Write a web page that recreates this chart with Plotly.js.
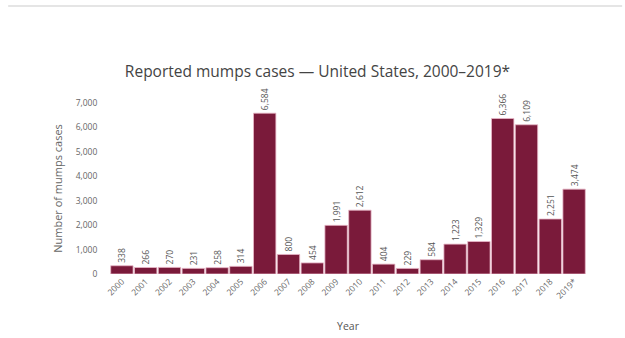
<!DOCTYPE html>
<html>
<head>
<meta charset="utf-8">
<script src="https://cdn.plot.ly/plotly-3.0.1.min.js"></script>
<style>
  html, body { margin: 0; padding: 0; background: #ffffff; }
  #chart { width: 625px; height: 338px; }
</style>
</head>
<body>
<div id="chart"></div>
<script>
// Reported mumps cases by year
const years = ["2000","2001","2002","2003","2004","2005","2006","2007","2008","2009",
               "2010","2011","2012","2013","2014","2015","2016","2017","2018","2019*"];
const cases = [338, 266, 270, 231, 258, 314, 6584, 800, 454, 1991,
               2612, 404, 229, 584, 1223, 1329, 6366, 6109, 2251, 3474];
const yTicks = [0, 1000, 2000, 3000, 4000, 5000, 6000, 7000];

const fontFamily = "Open Sans, DejaVu Sans, sans-serif";

const trace = {
  type: "bar",
  x: years,
  y: cases,
  text: cases.map(v => v.toLocaleString("en-US")),
  textposition: "outside",
  textangle: -90,
  textfont: { family: fontFamily, size: 8.5, color: "#555555" },
  cliponaxis: false,
  marker: {
    color: "#7a1a3a",
    line: { color: "#e9b8c8", width: 0.8 }
  },
  hoverinfo: "x+y"
};

const layout = {
  width: 625,
  height: 338,
  paper_bgcolor: "#ffffff",
  plot_bgcolor: "#ffffff",
  margin: { l: 110, r: 39, t: 103, b: 64, pad: 0 },
  bargap: 0.06,
  showlegend: false,
  title: {
    text: "Reported mumps cases — United States, 2000–2019*",
    font: { family: fontFamily, size: 15.5, color: "#444444" },
    x: 0.508, xanchor: "center",
    y: 0.787, yanchor: "middle"
  },
  xaxis: {
    type: "category",
    tickangle: -45,
    tickfont: { family: fontFamily, size: 8.5, color: "#666666" },
    showgrid: false,
    zeroline: false,
    showline: false,
    ticks: "",
    automargin: false,
    title: { text: "Year", font: { family: fontFamily, size: 10.5, color: "#555555" }, standoff: 22 }
  },
  yaxis: {
    range: [0, 7000],
    tickvals: yTicks,
    ticktext: yTicks.map(v => v.toLocaleString("en-US")),
    tickfont: { family: fontFamily, size: 8.5, color: "#666666" },
    showgrid: false,
    zeroline: false,
    showline: false,
    ticks: "outside",
    ticklen: 10,
    tickcolor: "rgba(0,0,0,0)",
    automargin: false,
    title: { text: "Number of mumps cases", font: { family: fontFamily, size: 11, color: "#666666" }, standoff: 10 }
  },
  shapes: [
    {
      type: "line", xref: "paper", yref: "paper",
      x0: -0.214, x1: 1.076, y0: 1.567, y1: 1.567,
      line: { color: "#dddddd", width: 1.5 }
    }
  ]
};

Plotly.newPlot("chart", [trace], layout, { displayModeBar: false, staticPlot: true });
</script>
</body>
</html>
